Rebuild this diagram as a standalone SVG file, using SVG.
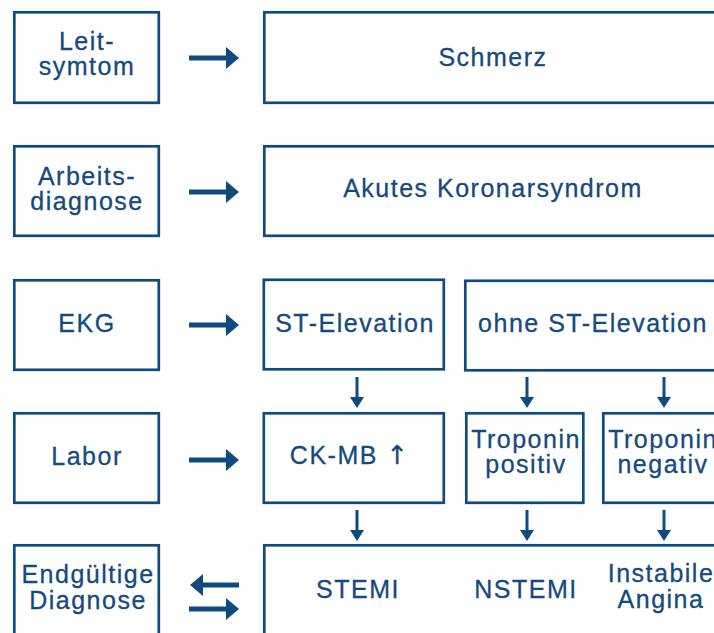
<svg xmlns="http://www.w3.org/2000/svg" width="714" height="633" viewBox="0 0 714 633">
<defs>
<style>
.box{fill:#fff;stroke:#104b80;stroke-width:2.7}
.t{font-family:"Liberation Sans",Arial,"DejaVu Sans",sans-serif;font-size:25px;letter-spacing:1.5px;fill:#154a7e;stroke:#154a7e;stroke-width:0.3px;text-anchor:middle}
.ar{font-family:"DejaVu Sans",sans-serif;font-size:26px;letter-spacing:0}
.thick{stroke:#104b80;stroke-width:5;fill:none}
.thin{stroke:#104b80;stroke-width:3;fill:none}
</style>
<marker id="hb" markerUnits="userSpaceOnUse" viewBox="0 0 13 22" refX="0" refY="11" markerWidth="13" markerHeight="22" orient="auto">
<path d="M0,0 L13,11 L0,22 z" fill="#104b80"/>
</marker>
<marker id="hs" markerUnits="userSpaceOnUse" viewBox="0 0 11 14" refX="0" refY="7" markerWidth="11" markerHeight="14" orient="auto">
<path d="M0,0 L11,7 L0,14 z" fill="#104b80"/>
</marker>
</defs>
<rect width="714" height="633" fill="#fff"/>

<g id="leitsymptom"><rect class="box" x="14.3" y="12.3" width="144.5" height="90.5"/><text class="t" x="87" y="50">Leit-</text><text class="t" x="87" y="75">symtom</text></g>
<g id="schmerz"><rect class="box" x="264.3" y="12.3" width="470" height="90.5"/><text class="t" x="493" y="66">Schmerz</text></g>

<g id="arbeitsdiagnose"><rect class="box" x="14.3" y="146.3" width="144.5" height="89.5"/><text class="t" x="87" y="185">Arbeits-</text><text class="t" x="87" y="210">diagnose</text></g>
<g id="aks"><rect class="box" x="264.3" y="146.3" width="470" height="89.5"/><text class="t" x="493" y="197">Akutes Koronarsyndrom</text></g>

<g id="ekg"><rect class="box" x="14.3" y="280.3" width="144.5" height="89.5"/><text class="t" x="87" y="332">EKG</text></g>
<g id="st-elevation"><rect class="box" x="263.8" y="279.8" width="180" height="89.5"/><text class="t" x="355" y="332">ST-Elevation</text></g>
<g id="ohne-st"><rect class="box" x="465.3" y="280.8" width="300" height="89.5"/><text class="t" x="593" y="332">ohne ST-Elevation</text></g>

<g id="labor"><rect class="box" x="14.3" y="413.3" width="144.5" height="89.5"/><text class="t" x="87" y="465">Labor</text></g>
<g id="ckmb"><rect class="box" x="263.8" y="413.3" width="180" height="89.5"/><text class="t" x="349" y="464">CK-MB <tspan class="ar">↑</tspan></text></g>
<g id="trop-pos"><rect class="box" x="466.3" y="413.3" width="117" height="89.5"/><text class="t" x="526" y="448">Troponin</text><text class="t" x="526" y="473">positiv</text></g>
<g id="trop-neg"><rect class="box" x="603.3" y="413.3" width="200" height="89.5"/><text class="t" x="663" y="448">Troponin</text><text class="t" x="663" y="473">negativ</text></g>

<g id="endgueltige"><rect class="box" x="14.3" y="545.3" width="144.5" height="120"/><text class="t" x="88" y="583">Endgültige</text><text class="t" x="88" y="609">Diagnose</text></g>
<g id="diagnosen"><rect class="box" x="264.3" y="545.3" width="470" height="120"/><text class="t" x="358" y="598">STEMI</text><text class="t" x="526" y="598">NSTEMI</text><text class="t" x="661" y="582">Instabile</text><text class="t" x="661" y="608">Angina</text></g>

<g id="connectors">
<line class="thick" x1="189" y1="58" x2="226" y2="58" marker-end="url(#hb)"/>
<line class="thick" x1="189" y1="192" x2="226" y2="192" marker-end="url(#hb)"/>
<line class="thick" x1="189" y1="325" x2="226" y2="325" marker-end="url(#hb)"/>
<line class="thick" x1="189" y1="460" x2="226" y2="460" marker-end="url(#hb)"/>
<line class="thick" x1="239" y1="585" x2="203" y2="585" marker-end="url(#hb)"/>
<line class="thick" x1="189" y1="609" x2="226" y2="609" marker-end="url(#hb)"/>
<line class="thin" x1="357" y1="377" x2="357" y2="397" marker-end="url(#hs)"/>
<line class="thin" x1="527" y1="377" x2="527" y2="397" marker-end="url(#hs)"/>
<line class="thin" x1="664" y1="377" x2="664" y2="397" marker-end="url(#hs)"/>
<line class="thin" x1="357" y1="510" x2="357" y2="530" marker-end="url(#hs)"/>
<line class="thin" x1="527" y1="510" x2="527" y2="530" marker-end="url(#hs)"/>
<line class="thin" x1="664" y1="510" x2="664" y2="530" marker-end="url(#hs)"/>
</g>
</svg>
